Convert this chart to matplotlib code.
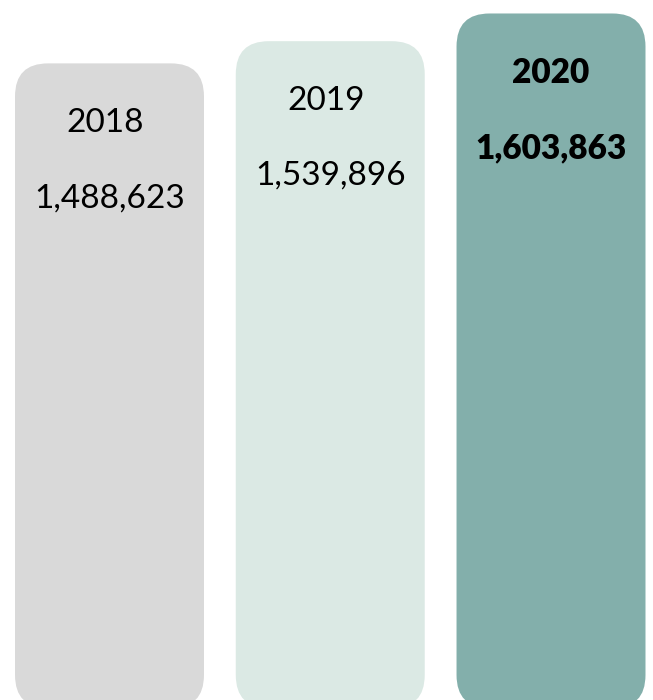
import matplotlib.pyplot as plt
from matplotlib.patches import FancyBboxPatch

years = ["2018", "2019", "2020"]
values = [1488623, 1539896, 1603863]
colors = ["#d9d9d9", "#dbe9e4", "#83afab"]
bold = [False, False, True]

fig = plt.figure(figsize=(6.53, 7), dpi=100)
ax = fig.add_axes([0, 0, 1, 1])
ax.set_xlim(-0.496, 2.462)
ax.set_ylim(18500, 1635000)
ax.axis("off")

bar_w = 0.856
radius_px = 33
x_per_px = (2.462 + 0.496) / 653
y_per_px = (1635000 - 18500) / 700
aspect = y_per_px / x_per_px

for i, (yr, v, c, b) in enumerate(zip(years, values, colors, bold)):
    box = FancyBboxPatch((i - bar_w / 2, 0), bar_w, v,
                         boxstyle=f"round,pad=0,rounding_size={radius_px * x_per_px}",
                         mutation_aspect=aspect, facecolor=c, edgecolor="none")
    ax.add_patch(box)
    w = "heavy" if b else "normal"
    ax.annotate(yr, (i, v), xytext=(-3 if not b else 0, -43), textcoords="offset points",
                ha="center", va="center", fontsize=24, fontweight=w, family="Lato")
    ax.annotate(f"{v:,}", (i, v), xytext=(0, -97), textcoords="offset points",
                ha="center", va="center", fontsize=24, fontweight=w, family="Lato")

fig.savefig("out.png", dpi=100)
